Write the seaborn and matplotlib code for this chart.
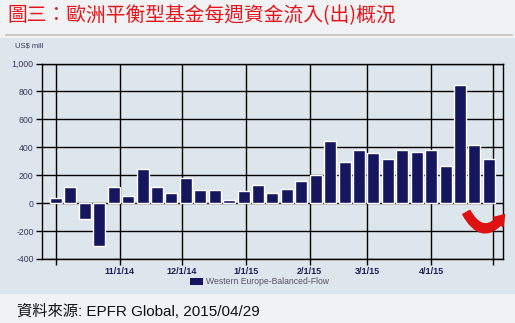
import matplotlib
matplotlib.use("Agg")
import matplotlib.pyplot as plt
import seaborn as sns
import pandas as pd
from matplotlib.patches import Rectangle, FancyArrowPatch
from matplotlib.lines import Line2D

# ---- data ----
weeks = pd.date_range("2014-10-01", periods=31, freq="7D")
flows = [36, 114, -112, -305, 114, 50, 243, 114, 76, 179, 93,
         97, 19, 89, 132, 73, 99, 162, 205, 442, 294, 379, 358,
         315, 379, 365, 379, 268, 845, 416, 313]
month_starts = pd.to_datetime(["2014-10-01", "2014-11-01", "2014-12-01", "2015-01-01",
                               "2015-02-01", "2015-03-01", "2015-04-01", "2015-05-01"])
month_labels = ["", "11/1/14", "12/1/14", "1/1/15", "2/1/15", "3/1/15", "4/1/15", ""]
y_ticks = [-400, -200, 0, 200, 400, 600, 800, 1000]
y_labels = ["-400", "-200", "0", "200", "400", "600", "800", "1,000"]
series_name = "Western Europe-Balanced-Flow"
title = "圖三：歐洲平衡型基金每週資金流入(出)概況"
source = "資料來源: EPFR Global, 2015/04/29"

df = pd.DataFrame({"week": [d.strftime("%Y-%m-%d") for d in weeks], "flow": flows})

sns.set_style("white")
plt.rcParams["font.family"] = ["Liberation Sans", "Noto Sans CJK TC", "DejaVu Sans"]

W, H = 515, 323
fig = plt.figure(figsize=(W / 100, H / 100), dpi=100)
fig.patch.set_facecolor("#f1f2f4")

def fx(px):
    return px / W

def fy(py):
    return 1 - py / H

# panel background
fig.add_artist(Rectangle((0, fy(294)), 1, fy(38) - fy(294), transform=fig.transFigure,
                         facecolor="#dde5ed", edgecolor="none", zorder=0))
# separator under title
fig.add_artist(Line2D([fx(6), fx(512)], [fy(35), fy(35)], transform=fig.transFigure,
                      color="#c8c8c8", lw=1.5, zorder=1))

ax = fig.add_axes([fx(42), fy(259), fx(503) - fx(42), fy(63.5) - fy(259)])
ax.set_facecolor("#dde5ed")

sns.barplot(data=df, x="week", y="flow", color="#16165e", width=0.83,
            saturation=1, ax=ax, zorder=3, label=series_name)

# gridlines
for yt in y_ticks:
    ax.axhline(yt, color="black", lw=1, zorder=1)
grid_pos = [(m - weeks[0]).days / 7 for m in month_starts]
for gp in grid_pos:
    ax.axvline(gp, color="black", lw=1, zorder=1)

ax.set_xlim(-0.97, 30.98)
ax.set_ylim(-400, 1000)
ax.set_yticks(y_ticks)
ax.set_yticklabels(y_labels, fontsize=6.3, color="#3a3a5c")
ax.set_xticks(grid_pos)
ax.set_xticklabels(month_labels, fontsize=6.5, color="#1e1e5a", fontweight="bold")
ax.tick_params(axis="both", direction="out", length=4, width=1, color="black", pad=2, left=True, bottom=True)
ax.set_xlabel("")
ax.set_ylabel("")
for s in ax.spines.values():
    s.set_visible(True)
    s.set_color("black")
    s.set_linewidth(1)
if ax.get_legend() is not None:
    ax.get_legend().remove()

# unit label
fig.text(fx(15), fy(46), "US$ mill", fontsize=5.5, color="#3a3a5c", va="center", ha="left")

# legend
fig.add_artist(Rectangle((fx(190), fy(284.5)), fx(13), fy(277.5) - fy(284.5), transform=fig.transFigure,
                         facecolor="#16165e", edgecolor="none", zorder=3))
fig.text(fx(206), fy(281), series_name, fontsize=6.2, color="#555566", va="center", ha="left")

# title and source
fig.text(fx(7), fy(16), title, fontsize=14.2, color="#e8141c", va="center", ha="left",
         family=["Noto Sans CJK TC", "DejaVu Sans"])
fig.text(fx(17), fy(311), source, fontsize=11, color="#111111", va="center", ha="left",
         family=["Liberation Sans", "Noto Sans CJK TC", "DejaVu Sans"])

# red curved arrow annotation
arrow = FancyArrowPatch((fx(465), fy(210)), (fx(506), fy(212)), transform=fig.transFigure,
                        connectionstyle="arc3,rad=0.85",
                        arrowstyle="simple,head_length=0.55,head_width=0.75,tail_width=0.45",
                        mutation_scale=13, color="#dd1111", zorder=5)
fig.add_artist(arrow)

fig.savefig("out.png", dpi=100, facecolor=fig.get_facecolor())
